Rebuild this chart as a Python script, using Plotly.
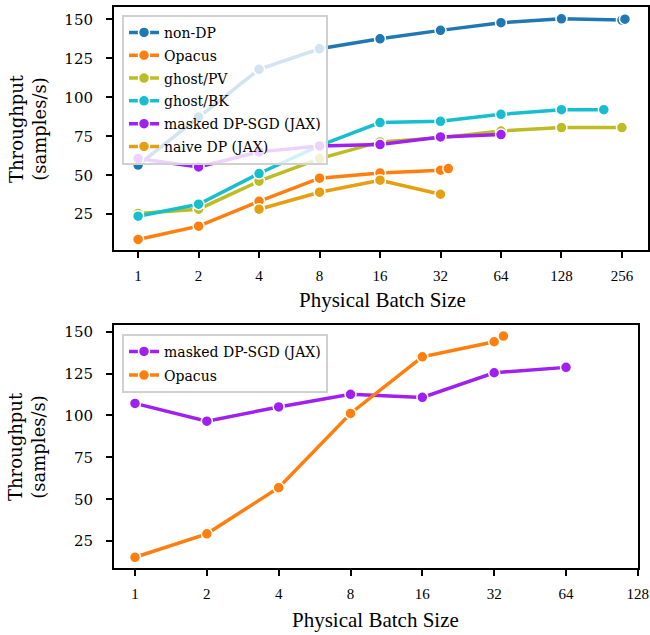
import plotly.graph_objects as go

# ---- Data: top panel ----
nondp_x = [1, 2, 4, 8, 16, 32, 64, 128, 256, 265]
nondp_y = [56.5, 87.4, 118.0, 131.2, 137.6, 143.0, 147.9, 150.4, 149.6, 150.2]

opacus_x = [1, 2, 4, 8, 16, 32, 35]
opacus_y = [8.8, 17.3, 33.3, 48.1, 51.5, 53.2, 54.3]

ghostpv_x = [1, 2, 4, 8, 16, 32, 64, 128, 256]
ghostpv_y = [25.4, 28.2, 46.2, 60.7, 71.4, 74.0, 78.4, 80.6, 80.6]

ghostbk_x = [1, 2, 4, 8, 16, 32, 64, 128, 208]
ghostbk_y = [23.7, 31.4, 51.1, 69.0, 83.8, 84.6, 89.1, 92.1, 92.1]

masked_x = [1, 2, 4, 8, 16, 32, 64]
masked_y = [60.7, 55.3, 65.0, 68.8, 69.7, 74.6, 76.1]

naive_x = [4, 8, 16, 32]
naive_y = [28.2, 39.1, 46.8, 37.8]

# ---- Data: bottom panel ----
b_masked_x = [1, 2, 4, 8, 16, 32, 64]
b_masked_y = [107.2, 96.6, 105.1, 112.6, 110.8, 125.5, 128.7]

b_opacus_x = [1, 2, 4, 8, 16, 32, 35]
b_opacus_y = [15.4, 29.4, 56.9, 101.2, 135.0, 144.0, 147.4]

top_ticks = [1, 2, 4, 8, 16, 32, 64, 128, 256]
bot_ticks = [1, 2, 4, 8, 16, 32, 64, 128]
y_ticks = [25, 50, 75, 100, 125, 150]

C_BLUE = "#1f77b4"
C_ORANGE = "#ff7f0e"
C_OLIVE = "#bcbd22"
C_CYAN = "#17becf"
C_PURPLE = "#a020f0"
C_GOLD = "#e69f10"

TIMES = "Liberation Serif"
CM = "DejaVu Serif"

fig = go.Figure()

def add(x, y, name, color, xa, ya, leg):
    fig.add_trace(go.Scatter(
        x=x, y=y, name=name, mode="lines+markers",
        line=dict(color=color, width=3.5),
        marker=dict(color=color, size=11, line=dict(color="white", width=1.5)),
        xaxis=xa, yaxis=ya, legend=leg, legendgroup=leg + name,
    ))

add(nondp_x, nondp_y, "non-DP", C_BLUE, "x", "y", "legend")
add(opacus_x, opacus_y, "Opacus", C_ORANGE, "x", "y", "legend")
add(ghostpv_x, ghostpv_y, "ghost/PV", C_OLIVE, "x", "y", "legend")
add(ghostbk_x, ghostbk_y, "ghost/BK", C_CYAN, "x", "y", "legend")
add(masked_x, masked_y, "masked DP-SGD (JAX)", C_PURPLE, "x", "y", "legend")
add(naive_x, naive_y, "naive DP (JAX)", C_GOLD, "x", "y", "legend")

add(b_masked_x, b_masked_y, "masked DP-SGD (JAX)", C_PURPLE, "x2", "y2", "legend2")
add(b_opacus_x, b_opacus_y, "Opacus", C_ORANGE, "x2", "y2", "legend2")

axis_common = dict(
    showline=True, linecolor="black", linewidth=2, mirror=True,
    ticks="outside", ticklen=6, tickwidth=1.5, tickcolor="black",
    showgrid=False, zeroline=False, automargin=False,
)
xfont = dict(family=TIMES, size=15, color="black")
yfont = dict(family=CM, size=15, color="black")

legend_common = dict(
    xanchor="left", yanchor="top",
    bgcolor="rgba(255,255,255,0.8)", bordercolor="#d0d0d0", borderwidth=2,
    font=dict(family=CM, size=14, color="black"),
    entrywidthmode="pixels",
)

fig.update_layout(
    width=650, height=635,
    margin=dict(l=114, r=2, t=7, b=67, autoexpand=False),
    paper_bgcolor="white", plot_bgcolor="white",
    font=dict(family=TIMES, color="black"),
    showlegend=True,
    xaxis=dict(type="log", range=[-0.12, 2.538], domain=[0, 1], anchor="y",
               tickvals=top_ticks, ticktext=[str(v) for v in top_ticks],
               tickfont=xfont, ticklabelstandoff=5, **axis_common),
    yaxis=dict(range=[2, 158], domain=[0.5668, 1.0], anchor="x",
               tickvals=y_ticks, tickfont=yfont, ticklabelstandoff=10, **axis_common),
    xaxis2=dict(type="log", range=[-0.088, 2.1072], domain=[0, 0.981], anchor="y2",
                tickvals=bot_ticks, ticktext=[str(v) for v in bot_ticks],
                tickfont=xfont, ticklabelstandoff=5, **axis_common),
    yaxis2=dict(range=[9, 154], domain=[0.0, 0.4332], anchor="x2",
                tickvals=y_ticks, tickfont=yfont, ticklabelstandoff=10, **axis_common),
    legend=dict(x=0.015, y=0.986, entrywidth=250, tracegroupgap=1.6, **legend_common),
    legend2=dict(x=0.015, y=0.4175, entrywidth=220, tracegroupgap=2.5, **legend_common),
)

# axis titles as annotations
fig.add_annotation(text="Physical Batch Size", xref="paper", yref="paper",
                   x=0.502, y=0.4777, xanchor="center", yanchor="middle",
                   showarrow=False, font=dict(family=TIMES, size=21))
fig.add_annotation(text="Physical Batch Size", xref="paper", yref="paper",
                   x=0.4906, y=-0.0927, xanchor="center", yanchor="middle",
                   showarrow=False, font=dict(family=TIMES, size=21))
for yc in [0.7834, 0.2166]:
    fig.add_annotation(text="Throughput<br>(samples/s)", xref="paper", yref="paper",
                       x=-0.162, y=yc, xanchor="center", yanchor="middle",
                       textangle=-90, showarrow=False,
                       font=dict(family=CM, size=18))

fig.write_html("out.html", config={"displayModeBar": False},
               post_script="document.body.style.margin='0px';")
